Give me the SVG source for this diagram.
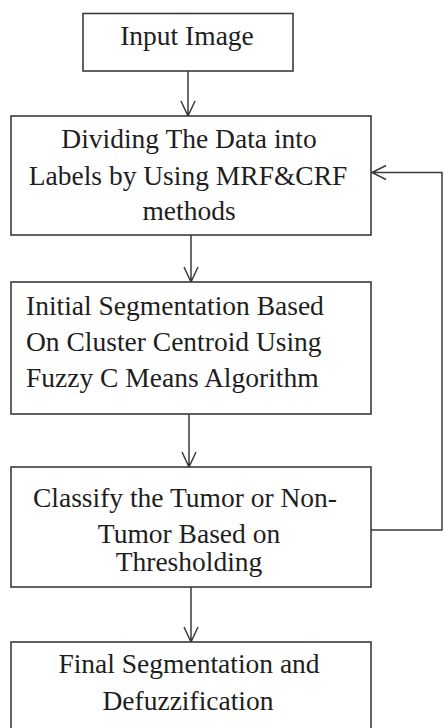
<svg xmlns="http://www.w3.org/2000/svg" width="444" height="728" viewBox="0 0 444 728">
<style>
.box{fill:#fff;stroke:#3a3a3a;stroke-width:1.6}
.t{font-family:"Liberation Serif","Times New Roman",serif;font-size:27.5px;fill:#1e1e1e}
.c{text-anchor:middle}
.ln{fill:none;stroke:#3a3a3a;stroke-width:1.5}
</style>
<rect width="444" height="728" fill="#fff"/>
<g id="connectors">
<path class="ln" d="M188 71V116M181 101L188 116L195 101"/>
<path class="ln" d="M191 235V282M184 267L191 282L198 267"/>
<path class="ln" d="M189 414V467M182 452L189 467L196 452"/>
<path class="ln" d="M191 587V642M184 627L191 642L198 627"/>
<path class="ln" d="M371 530H442V172.5H372M386 165.5L372 172.5L386 179.5"/>
</g>
<g id="node1">
<rect class="box" x="83" y="13.5" width="210" height="57.5"/>
<text class="t c" x="187" y="45">Input Image</text>
</g>
<g id="node2">
<rect class="box" x="11" y="116" width="360" height="119"/>
<text class="t c" x="189" y="148">Dividing The Data into</text>
<text class="t c" x="188" y="185">Labels by Using MRF&amp;CRF</text>
<text class="t c" x="189" y="220">methods</text>
</g>
<g id="node3">
<rect class="box" x="11" y="282" width="360" height="132"/>
<text class="t" x="26" y="315">Initial Segmentation Based</text>
<text class="t" x="26" y="351">On Cluster Centroid Using</text>
<text class="t" x="26" y="387">Fuzzy C Means Algorithm</text>
</g>
<g id="node4">
<rect class="box" x="11" y="467" width="360" height="120"/>
<text class="t c" x="185" y="507">Classify the Tumor or Non-</text>
<text class="t c" x="189" y="543">Tumor Based on</text>
<text class="t c" x="189" y="571">Thresholding</text>
</g>
<g id="node5">
<rect class="box" x="11" y="642" width="360" height="100"/>
<text class="t c" x="189" y="673">Final Segmentation and</text>
<text class="t c" x="188" y="710">Defuzzification</text>
</g>
</svg>
